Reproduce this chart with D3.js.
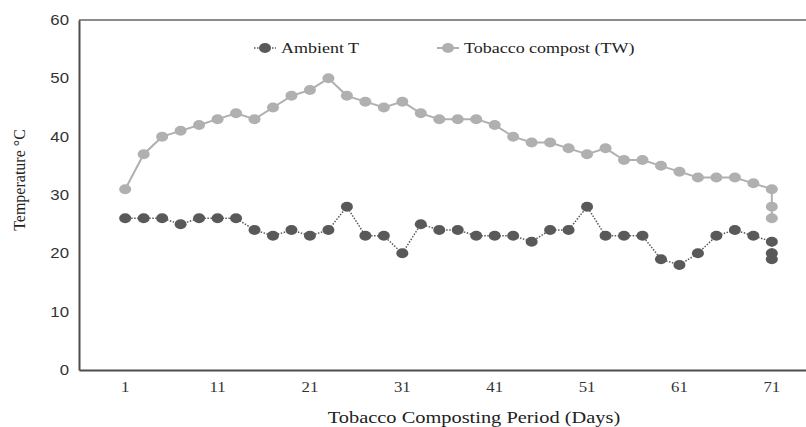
<!DOCTYPE html>
<html>
<head>
<meta charset="utf-8">
<script src="https://cdn.jsdelivr.net/npm/d3@7"></script>
<style>
  body { margin: 0; background: #fff; }
  svg { display: block; }
</style>
</head>
<body>
<div id="chart"></div>
<script>
// days (the last three readings all sit on day 71 in the original)
const days = [1, 3, 5, 7, 9, 11, 13, 15, 17, 19, 21, 23, 25, 27, 29, 31, 33, 35,
  37, 39, 41, 43, 45, 47, 49, 51, 53, 55, 57, 59, 61, 63, 65, 67, 69, 71, 71, 71];

const ambientT = [26, 26, 26, 25, 26, 26, 26, 24, 23, 24, 23, 24, 28, 23, 23, 20, 25, 24,
  24, 23, 23, 23, 22, 24, 24, 28, 23, 23, 23, 19, 18, 20, 23, 24, 23, 22, 20, 19];

const tobaccoTW = [31, 37, 40, 41, 42, 43, 44, 43, 45, 47, 48, 50, 47, 46, 45, 46, 44, 43,
  43, 43, 42, 40, 39, 39, 38, 37, 38, 36, 36, 35, 34, 33, 33, 33, 32, 31, 28, 26];

const xTicks = [1, 11, 21, 31, 41, 51, 61, 71];
const yTicks = [0, 10, 20, 30, 40, 50, 60];

const svgWidth = 806;
const svgHeight = 427;

const marginLeft = 79;
const marginTop = 20;
const width = svgWidth - marginLeft;
const height = 350;

const darkColor = "#595959";
const greyColor = "#b0b0b0";
const serif = "'Liberation Serif', 'Times New Roman', serif";
const stretch = 1.2; // the picture is a little wide, text included

const svg = d3.select("#chart")
  .append("svg")
  .attr("width", svgWidth)
  .attr("height", svgHeight);

// Scales
const xScale = d3.scaleLinear().domain([-4, 74.7]).range([0, width]);
const yScale = d3.scaleLinear().domain([0, 60]).range([height, 0]);

const chart = svg.append("g")
  .attr("transform", `translate(${marginLeft},${marginTop})`);

// frame: top border grey, left and bottom dark
chart.append("line")
  .attr("x1", 0).attr("x2", width)
  .attr("y1", yScale(60)).attr("y2", yScale(60))
  .attr("stroke", "#8c8c8c").attr("stroke-width", 2);

const xAxis = chart.append("g")
  .attr("transform", `translate(0,${height})`)
  .call(d3.axisBottom(xScale).tickValues(xTicks).tickSize(0).tickPadding(0));
xAxis.select(".domain").attr("stroke", "#4d4d4d").attr("stroke-width", 2);
xAxis.selectAll(".tick text").remove();

const yAxis = chart.append("g")
  .call(d3.axisLeft(yScale).tickValues(yTicks).tickSize(0));
yAxis.select(".domain").attr("stroke", "#4d4d4d").attr("stroke-width", 2);
yAxis.selectAll(".tick text").remove();

// tick labels, stretched like the original
chart.append("g")
  .selectAll("text")
  .data(xTicks)
  .join("text")
  .attr("transform", (d) => `translate(${xScale(d)},${height + 22}) scale(${stretch},1)`)
  .attr("text-anchor", "middle")
  .attr("font-family", serif)
  .attr("font-size", 14)
  .attr("fill", "#333")
  .text((d) => d);

chart.append("g")
  .selectAll("text")
  .data(yTicks)
  .join("text")
  .attr("transform", (d) => `translate(-10,${yScale(d) + 5}) scale(${stretch},1)`)
  .attr("text-anchor", "end")
  .attr("font-family", "'Liberation Sans', Arial, sans-serif")
  .attr("font-size", 14)
  .attr("fill", "#333")
  .text((d) => d);

// series
const ambientPts = days.map((d, i) => ({ x: d, y: ambientT[i] }));
const tobaccoPts = days.map((d, i) => ({ x: d, y: tobaccoTW[i] }));

const line = d3.line().x((d) => xScale(d.x)).y((d) => yScale(d.y));

chart.append("path")
  .datum(tobaccoPts)
  .attr("fill", "none")
  .attr("stroke", greyColor)
  .attr("stroke-width", 2)
  .attr("d", line);

chart.append("path")
  .datum(ambientPts)
  .attr("fill", "none")
  .attr("stroke", darkColor)
  .attr("stroke-width", 1.5)
  .attr("stroke-dasharray", "1.5,1.5")
  .attr("d", line);

chart.append("g")
  .selectAll("ellipse")
  .data(tobaccoPts)
  .join("ellipse")
  .attr("cx", (d) => xScale(d.x))
  .attr("cy", (d) => yScale(d.y))
  .attr("rx", 6)
  .attr("ry", 5)
  .attr("fill", greyColor);

chart.append("g")
  .selectAll("ellipse")
  .data(ambientPts)
  .join("ellipse")
  .attr("cx", (d) => xScale(d.x))
  .attr("cy", (d) => yScale(d.y))
  .attr("rx", 6)
  .attr("ry", 5)
  .attr("fill", darkColor);

// Legend
const legendItems = [
  { label: "Ambient T", x: 265, color: darkColor, dash: "1.5,1.5", w: 1.5 },
  { label: "Tobacco compost (TW)", x: 448, color: greyColor, dash: null, w: 2 },
];
const legend = svg.append("g").selectAll("g")
  .data(legendItems)
  .join("g")
  .attr("transform", (d) => `translate(${d.x},48)`);

legend.append("line")
  .attr("x1", -11).attr("x2", 11)
  .attr("stroke", (d) => d.color)
  .attr("stroke-width", (d) => d.w)
  .attr("stroke-dasharray", (d) => d.dash);

legend.append("ellipse")
  .attr("rx", 6).attr("ry", 5)
  .attr("fill", (d) => d.color);

legend.append("text")
  .attr("transform", `translate(16,5) scale(${stretch},1)`)
  .attr("font-family", serif)
  .attr("font-size", 15)
  .attr("fill", "#222")
  .text((d) => d.label);

// axis titles
svg.append("text")
  .attr("transform", `translate(474,${svgHeight - 4}) scale(${stretch},1)`)
  .attr("text-anchor", "middle")
  .attr("font-family", serif)
  .attr("font-size", 17)
  .attr("fill", "#222")
  .text("Tobacco Composting Period (Days)");

svg.append("text")
  .attr("transform", `translate(25,${180}) rotate(-90)`)
  .attr("text-anchor", "middle")
  .attr("font-family", serif)
  .attr("font-size", 16)
  .attr("fill", "#222")
  .text("Temperature °C");
</script>
</body>
</html>
